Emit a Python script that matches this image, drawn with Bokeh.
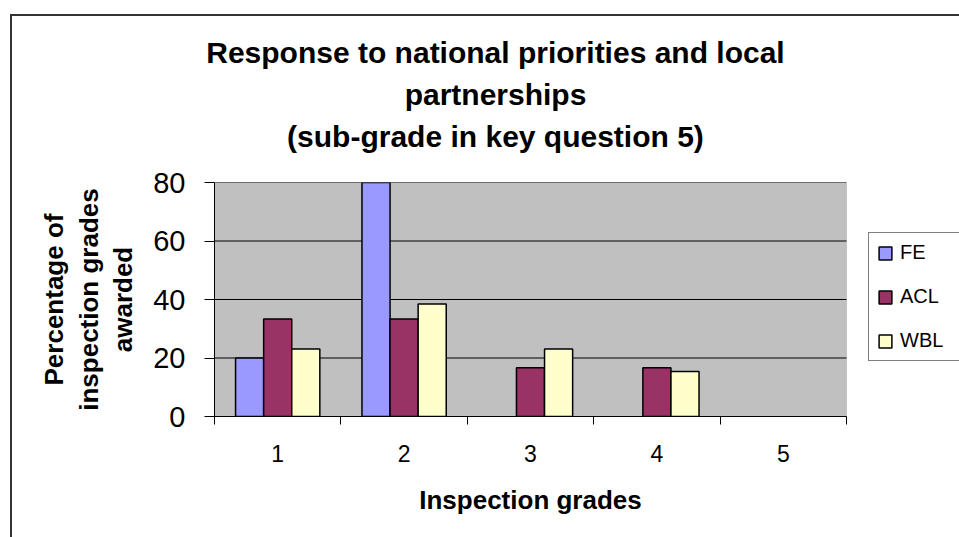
from bokeh.plotting import figure
from bokeh.models import (ColumnDataSource, Range1d, FixedTicker, Legend, LegendItem,
                          Title, LinearAxis, BoxAnnotation)
from bokeh.embed import file_html
from bokeh.resources import INLINE

# ---- data ----
categories = [1, 2, 3, 4, 5]
series_names = ["FE", "ACL", "WBL"]
fe = [20, 80, 0, 0, 0]
acl = [33.3, 33.3, 16.7, 16.7, 0]
wbl = [23.1, 38.5, 23.1, 15.4, 0]
colors = ["#9999FF", "#993366", "#FFFFCC"]
y_ticks = [0, 20, 40, 60, 80]
title_lines = ["Response to national priorities and local",
               "partnerships",
               "(sub-grade in key question 5)"]
x_title = "Inspection grades"
y_title = "Percentage of\ninspection grades\nawarded"

# ---- layout ----
W, H = 959, 537
L, T, B = 214, 182, 121
PLOT_RIGHT = 846                 # right edge of the grey plot area
fh = H - T - B
X0, X1 = 0.5, 5.5                # category span of the grey plot area
x_end = X0 + (W - L) / (PLOT_RIGHT - L) * (X1 - X0)
FONT = "Liberation Sans"

# Arial/Liberation Sans Bold advance widths (per 1000 em) for centring text lines
ADV = {" ": 278, "(": 333, ")": 333, "-": 333, "5": 556, "R": 722, "I": 278,
       "a": 556, "b": 611, "c": 556, "d": 611, "e": 556, "g": 611, "h": 611,
       "i": 278, "k": 556, "l": 278, "n": 611, "o": 611, "p": 611, "q": 611,
       "r": 389, "s": 556, "t": 333, "u": 611, "y": 556}
TITLE_PX = 30
TITLE_CX = 495
XTITLE_PX = 26
XTITLE_CX = 530

def text_w(s, px):
    return sum(ADV.get(ch, 556) for ch in s) / 1000.0 * px

p = figure(width=W, height=H, output_backend="svg", toolbar_location=None, title=None,
           x_range=Range1d(X0, x_end), y_range=Range1d(0, 80),
           min_border_left=L, min_border_right=0, min_border_top=T, min_border_bottom=B,
           background_fill_color="white", border_fill_color=None,
           outline_line_color=None)

# outer chart-area border (left and top edges visible, drawn behind the transparent canvas)
p.styles = {
    "background-color": "white",
    "background-image": "linear-gradient(#333333, #333333), linear-gradient(#333333, #333333)",
    "background-position": "10px 14px, 10px 14px",
    "background-size": "2px 3000px, 3000px 2px",
    "background-repeat": "no-repeat",
}

# grey plot area
p.add_layout(BoxAnnotation(left=X0, right=X1, bottom=0, top=80,
                           fill_color="#C0C0C0", fill_alpha=1.0,
                           line_color="#808080", line_width=1, level="underlay"))

# horizontal gridlines, limited to the plot area
p.xgrid.visible = False
p.ygrid.visible = False
gsrc = ColumnDataSource(dict(y=y_ticks[1:], x0=[X0] * (len(y_ticks) - 1),
                             x1=[X1] * (len(y_ticks) - 1)))
p.segment(x0="x0", x1="x1", y0="y", y1="y", source=gsrc, line_color="black", line_width=1)

# bars
bw = 1 / 4.5
items = []
for i, (name, vals, col) in enumerate(zip(series_names, [fe, acl, wbl], colors)):
    xs = [c + (i - 1) * bw for c, v in zip(categories, vals) if v > 0]
    tops = [v for v in vals if v > 0]
    src = ColumnDataSource(dict(x=xs, top=tops))
    r = p.vbar(x="x", top="top", bottom=0, width=bw, source=src,
               fill_color=col, line_color="black", line_width=1.5)
    items.append(LegendItem(label=name, renderers=[r]))

# x axis
xa = p.xaxis[0]
xa.bounds = (X0, X1)
xa.ticker = FixedTicker(ticks=categories, minor_ticks=[X0 + k for k in range(6)])
xa.major_tick_out = 0
xa.major_tick_in = 0
xa.minor_tick_out = 8
xa.minor_tick_in = 0
xa.minor_tick_line_color = "black"
xa.axis_line_color = "black"
xa.major_label_text_font = FONT
xa.major_label_text_font_size = "23px"
xa.major_label_text_color = "black"
xa.major_label_standoff = 20

# x-axis title, centred under the grey plot area
p.add_layout(Title(text=x_title, align="left",
                   offset=XTITLE_CX - text_w(x_title, XTITLE_PX) / 2 - L,
                   vertical_align="top", text_font=FONT,
                   text_font_size=f"{XTITLE_PX}px", text_font_style="bold",
                   text_color="black", standoff=40), "below")

# y axis
ya = p.yaxis[0]
ya.ticker = FixedTicker(ticks=y_ticks)
ya.major_tick_out = 10
ya.major_tick_in = 0
ya.minor_tick_out = 0
ya.minor_tick_in = 0
ya.minor_tick_line_color = None
ya.axis_line_color = "black"
ya.major_tick_line_color = "black"
ya.major_label_text_font = FONT
ya.major_label_text_font_size = "29px"
ya.major_label_text_color = "black"
ya.major_label_standoff = 19
ya.axis_label = y_title
ya.axis_label_text_font = FONT
ya.axis_label_text_font_size = "26px"
ya.axis_label_text_font_style = "bold"
ya.axis_label_text_color = "black"
ya.axis_label_text_line_height = 1.15
ya.axis_label_standoff = 12

# legend, placed right of the grey plot area (runs off the right edge like the original)
legend = Legend(items=items, location=(868 - L, (T + fh) - 361), padding=8, spacing=21,
                glyph_width=16, glyph_height=16, label_height=16, label_width=75,
                label_standoff=7,
                label_text_font=FONT, label_text_font_size="20px", label_text_color="black",
                border_line_color="black", border_line_width=1,
                background_fill_color="white", background_fill_alpha=1.0, margin=0)
p.add_layout(legend, "center")

# empty spacer between plot area and the title block
spacer = LinearAxis(ticker=FixedTicker(ticks=[3]), major_label_overrides={3: ""},
                    axis_line_color=None, major_tick_line_color=None,
                    minor_tick_line_color=None,
                    major_tick_out=26, major_tick_in=0, minor_tick_out=0, minor_tick_in=0,
                    major_label_standoff=0, axis_label_standoff=0,
                    major_label_text_font_size="0px")
p.add_layout(spacer, "above")

# title: three lines, innermost first
for line in reversed(title_lines):
    off = TITLE_CX - text_w(line, TITLE_PX) / 2 - L
    p.add_layout(Title(text=line, align="left", offset=off, text_font=FONT,
                       text_font_size=f"{TITLE_PX}px", text_font_style="bold",
                       text_color="black", standoff=7), "above")

open("out.html", "w").write(file_html(p, INLINE))
